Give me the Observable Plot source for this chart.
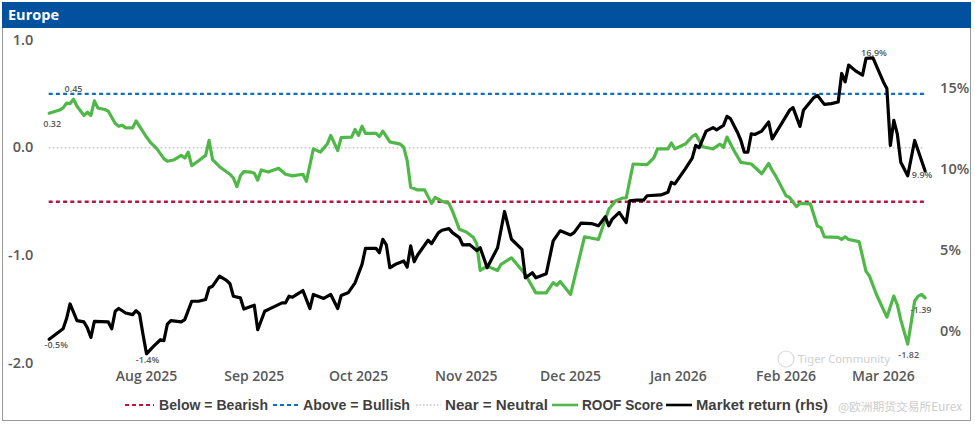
<!DOCTYPE html>
<html><head><meta charset="utf-8">
<script src="https://cdn.jsdelivr.net/npm/d3@7"></script>
<script src="https://cdn.jsdelivr.net/npm/@observablehq/plot@0.6"></script>
<style>
html,body{margin:0;padding:0;background:#fff;}
#wrap{position:relative;width:975px;height:424px;overflow:hidden;font-family:"Open Sans",sans-serif;}
#frame{position:absolute;left:2px;top:2px;width:969px;height:419px;border:1px solid #9a9a9a;box-sizing:border-box;}
#title{position:absolute;left:2px;top:2px;width:969px;height:26px;background:#02519e;color:#fff;font-weight:700;font-size:14.5px;line-height:26px;padding-left:6px;box-sizing:border-box;}
#chart{position:absolute;left:0;top:28px;}
#overlay{position:absolute;left:0;top:0;pointer-events:none;}
</style></head><body>
<div id="wrap"><div id="frame"></div><div id="title">Europe</div><div id="chart"></div><svg id="overlay" width="975" height="424"></svg></div>
<script>
// ROOF Score (left axis)
const roofDates = ["2025-07-04","2025-07-07","2025-07-08","2025-07-09","2025-07-10","2025-07-11","2025-07-12","2025-07-14","2025-07-15","2025-07-16","2025-07-17","2025-07-18","2025-07-20","2025-07-21","2025-07-23","2025-07-24","2025-07-25","2025-07-26","2025-07-28","2025-07-29","2025-07-30","2025-08-01","2025-08-02","2025-08-04","2025-08-06","2025-08-07","2025-08-09","2025-08-11","2025-08-12","2025-08-13","2025-08-14","2025-08-16","2025-08-18","2025-08-19","2025-08-20","2025-08-22","2025-08-25","2025-08-26","2025-08-27","2025-08-28","2025-08-29","2025-08-31","2025-09-01","2025-09-02","2025-09-03","2025-09-05","2025-09-08","2025-09-10","2025-09-12","2025-09-15","2025-09-16","2025-09-18","2025-09-20","2025-09-22","2025-09-23","2025-09-25","2025-09-26","2025-09-29","2025-09-30","2025-10-01","2025-10-02","2025-10-03","2025-10-06","2025-10-07","2025-10-08","2025-10-10","2025-10-13","2025-10-14","2025-10-15","2025-10-16","2025-10-18","2025-10-20","2025-10-22","2025-10-23","2025-10-25","2025-10-27","2025-10-28","2025-10-30","2025-11-01","2025-11-03","2025-11-04","2025-11-05","2025-11-07","2025-11-10","2025-11-11","2025-11-14","2025-11-18","2025-11-21","2025-11-24","2025-11-26","2025-11-27","2025-11-28","2025-12-01","2025-12-05","2025-12-09","2025-12-12","2025-12-14","2025-12-16","2025-12-17","2025-12-19","2025-12-23","2025-12-25","2025-12-26","2025-12-29","2025-12-30","2025-12-31","2026-01-03","2026-01-05","2026-01-06","2026-01-08","2026-01-11","2026-01-13","2026-01-14","2026-01-15","2026-01-17","2026-01-19","2026-01-22","2026-01-25","2026-01-27","2026-01-28","2026-01-29","2026-02-01","2026-02-02","2026-02-04","2026-02-05","2026-02-08","2026-02-10","2026-02-11","2026-02-12","2026-02-16","2026-02-17","2026-02-18","2026-02-19","2026-02-22","2026-02-24","2026-02-25","2026-02-27","2026-03-02","2026-03-04","2026-03-05","2026-03-06","2026-03-08","2026-03-10","2026-03-11","2026-03-12","2026-03-13"];
const roofScore = [0.32,0.35,0.37,0.415,0.41,0.45,0.385,0.30,0.33,0.30,0.435,0.37,0.355,0.34,0.225,0.20,0.21,0.185,0.185,0.25,0.20,0.10,0.055,-0.01,-0.10,-0.125,-0.11,-0.07,-0.095,-0.04,-0.165,-0.12,-0.07,0.07,-0.11,-0.175,-0.245,-0.28,-0.36,-0.26,-0.22,-0.225,-0.235,-0.30,-0.205,-0.225,-0.19,-0.245,-0.26,-0.245,-0.31,-0.01,-0.04,0.035,0.115,-0.025,0.095,0.10,0.17,0.115,0.20,0.135,0.135,0.105,0.155,0.055,0.035,0.005,-0.12,-0.365,-0.39,-0.39,-0.515,-0.46,-0.495,-0.515,-0.585,-0.755,-0.78,-0.83,-0.89,-1.137,-1.097,-1.137,-1.08,-1.02,-1.175,-1.345,-1.345,-1.25,-1.275,-1.24,-1.36,-0.825,-0.85,-0.57,-0.49,-0.465,-0.465,-0.15,-0.155,-0.09,-0.01,-0.01,0.045,-0.01,0.035,0.105,0.125,0.01,-0.01,0.035,0.005,0.10,-0.025,-0.135,-0.15,-0.24,-0.145,-0.21,-0.26,-0.445,-0.46,-0.545,-0.515,-0.52,-0.725,-0.74,-0.825,-0.83,-0.85,-0.825,-0.85,-0.87,-1.145,-1.19,-1.36,-1.57,-1.375,-1.455,-1.595,-1.82,-1.42,-1.375,-1.36,-1.39];

// Market return in % (right axis)
const marketDates = ["2025-07-04","2025-07-06","2025-07-08","2025-07-09","2025-07-10","2025-07-12","2025-07-14","2025-07-15","2025-07-16","2025-07-17","2025-07-21","2025-07-22","2025-07-23","2025-07-24","2025-07-26","2025-07-28","2025-07-29","2025-07-30","2025-07-31","2025-08-01","2025-08-03","2025-08-05","2025-08-06","2025-08-07","2025-08-08","2025-08-11","2025-08-12","2025-08-14","2025-08-16","2025-08-18","2025-08-19","2025-08-20","2025-08-22","2025-08-24","2025-08-25","2025-08-26","2025-08-28","2025-08-29","2025-09-01","2025-09-02","2025-09-04","2025-09-06","2025-09-09","2025-09-10","2025-09-11","2025-09-12","2025-09-15","2025-09-17","2025-09-18","2025-09-21","2025-09-23","2025-09-25","2025-09-26","2025-09-28","2025-09-30","2025-10-02","2025-10-03","2025-10-06","2025-10-07","2025-10-08","2025-10-09","2025-10-10","2025-10-12","2025-10-14","2025-10-15","2025-10-16","2025-10-17","2025-10-18","2025-10-21","2025-10-22","2025-10-24","2025-10-25","2025-10-27","2025-10-28","2025-10-30","2025-10-31","2025-11-02","2025-11-04","2025-11-05","2025-11-07","2025-11-10","2025-11-12","2025-11-14","2025-11-17","2025-11-18","2025-11-20","2025-11-21","2025-11-24","2025-11-26","2025-11-28","2025-12-01","2025-12-02","2025-12-04","2025-12-07","2025-12-09","2025-12-11","2025-12-12","2025-12-13","2025-12-15","2025-12-17","2025-12-18","2025-12-20","2025-12-22","2025-12-23","2025-12-27","2025-12-29","2025-12-30","2025-12-31","2026-01-03","2026-01-05","2026-01-06","2026-01-07","2026-01-09","2026-01-11","2026-01-12","2026-01-14","2026-01-15","2026-01-16","2026-01-18","2026-01-19","2026-01-20","2026-01-21","2026-01-22","2026-01-23","2026-01-25","2026-01-27","2026-01-28","2026-01-30","2026-02-02","2026-02-03","2026-02-05","2026-02-06","2026-02-09","2026-02-10","2026-02-12","2026-02-14","2026-02-16","2026-02-17","2026-02-18","2026-02-19","2026-02-21","2026-02-23","2026-02-24","2026-02-26","2026-03-01","2026-03-02","2026-03-03","2026-03-04","2026-03-05","2026-03-06","2026-03-08","2026-03-10","2026-03-13"];
const marketReturn = [-0.5,-0.18,0.15,0.78,1.68,0.65,0.57,0.19,-0.39,0.61,0.57,0.15,1.23,1.40,1.12,1.02,1.27,1.06,-0.22,-1.4,-0.94,-0.53,-0.59,0.44,0.65,0.57,0.71,1.85,1.85,1.96,2.68,2.78,3.40,3.14,2.93,2.16,2.06,1.37,1.60,0.09,1.23,1.44,1.75,1.75,2.16,2.10,2.51,1.40,2.27,2.02,2.27,1.40,2.20,2.37,2.99,4.13,5.12,5.12,4.85,5.68,5.33,3.92,4.17,4.34,3.96,5.27,4.29,4.71,5.62,5.41,6.09,6.24,6.34,6.09,5.78,5.33,5.35,4.98,5.16,3.92,5.16,7.40,5.68,5.06,3.30,3.61,3.30,3.55,5.58,6.20,5.95,6.09,6.68,6.65,6.51,7.07,6.51,6.93,7.34,6.71,8.06,8.10,8.10,8.37,8.42,8.58,9.20,9.10,10.03,10.70,11.48,11.35,12.37,12.58,12.45,12.72,13.28,13.14,12.30,11.79,11.06,11.06,12.20,12.16,12.37,12.93,11.89,12.58,13.65,13.82,12.66,13.65,14.44,14.58,14.02,14.07,14.17,15.93,15.41,16.45,16.09,15.83,16.86,16.90,15.41,15.00,11.48,13.03,12.20,10.44,9.61,11.79,9.90];

const monthTicks = ["2025-08-01","2025-09-01","2025-10-01","2025-11-01","2025-12-01","2026-01-01","2026-02-01","2026-03-01"];
const leftTicks = [1, 0, -1, -2];
const rightTicks = [0, 5, 10, 15];
const thresholds = {bearish: -0.5, neutral: 0, bullish: 0.5};
const legendLabels = ["Below = Bearish", "Above = Bullish", "Near = Neutral", "ROOF Score", "Market return (rhs)"];
const watermarkTexts = ["Tiger Community", "@欧洲期货交易所Eurex"];

const leftDomain = [-2, 1];
const rightDomain = [-2, 18];
const k = (leftDomain[1] - leftDomain[0]) / (rightDomain[1] - rightDomain[0]);
const toLeft = r => leftDomain[0] + (r - rightDomain[0]) * k;
const fromLeft = v => rightDomain[0] + (v - leftDomain[0]) / k;

const roof = roofDates.map((d, i) => ({date: new Date(d), value: roofScore[i]}));
const market = marketDates.map((d, i) => ({date: new Date(d), value: marketReturn[i], y: toLeft(marketReturn[i])}));

const GREEN = "#4fb848", BLUE = "#0a6fc2", RED = "#b8163e", GREY = "#c4c4c4";
const LABEL = "#595959";

const rMax = roof[d3.maxIndex(roof, d => d.value)];
const rMin = roof[d3.minIndex(roof, d => d.value)];
const rFirst = roof[0], rLast = roof[roof.length - 1];
const mMax = market[d3.maxIndex(market, d => d.value)];
const mMin = market[d3.minIndex(market, d => d.value)];
const mFirst = market[0], mLast = market[market.length - 1];

const fmtR = v => v.toFixed(2);
const fmtM = v => v.toFixed(1) + "%";
const ann = (d, yv, text, dx, dy) => Plot.text([d], {x: "date", y: yv, text: () => text, dx, dy, fill: LABEL, fontSize: 9, fontWeight: 600});

const chart = Plot.plot({
  width: 975, height: 362,
  marginLeft: 48.7, marginRight: 50.4, marginTop: 11.5, marginBottom: 27,
  x: {type: "utc", domain: [rFirst.date, rLast.date]},
  y: {domain: leftDomain},
  style: {fontFamily: "'Open Sans', sans-serif", fontSize: "14px", fontWeight: 600, color: LABEL, background: "transparent", overflow: "visible"},
  marks: [
    Plot.ruleY([thresholds.neutral], {stroke: GREY, strokeWidth: 1.5, strokeDasharray: "1.6,2.4"}),
    Plot.ruleY([thresholds.bullish], {stroke: BLUE, strokeWidth: 2.4, strokeDasharray: "4,3.2"}),
    Plot.ruleY([thresholds.bearish], {stroke: RED, strokeWidth: 2.4, strokeDasharray: "4,3.2"}),
    Plot.lineY(roof, {x: "date", y: "value", stroke: GREEN, strokeWidth: 3.2, strokeLinejoin: "round"}),
    Plot.lineY(market, {x: "date", y: "y", stroke: "#000", strokeWidth: 3.2, strokeLinejoin: "round"}),
    Plot.axisX(monthTicks.map(d => new Date(d)), {tickSize: 0, tickPadding: 8, tickFormat: d3.utcFormat("%b %Y"), fontSize: 14, fontWeight: 600}),
    Plot.axisY(leftTicks, {anchor: "left", tickSize: 0, tickPadding: 16, tickFormat: d => d.toFixed(1), fontSize: 14.5, fontWeight: 600}),
    Plot.axisY(rightTicks.map(toLeft), {anchor: "right", tickSize: 0, tickPadding: 15, tickFormat: d => Math.round(fromLeft(d)) + "%", fontSize: 14.5, fontWeight: 600}),
    ann(rFirst, "value", fmtR(rFirst.value), 3, 11),
    ann(rMax, "value", fmtR(rMax.value), 0, -10),
    ann(rMin, "value", fmtR(rMin.value), 1, 11),
    ann(rLast, "value", fmtR(rLast.value), -4, 12),
    ann(mFirst, "y", fmtM(mFirst.value), 7, 6),
    ann(mMin, "y", fmtM(mMin.value), 1, 6),
    ann(mMax, "y", fmtM(mMax.value), 1, -5),
    ann(mLast, "y", fmtM(mLast.value), -3, 4)
  ]
});
document.getElementById("chart").appendChild(chart);

// legend + watermark overlay
const ov = d3.select("#overlay");
const ly = 405;
const items = [
  {sx: 125, sw: 29, tx: 159, tw: 109, stroke: RED, dash: "4,3", w: 2},
  {sx: 273, sw: 27, tx: 303, tw: 107, stroke: BLUE, dash: "4,3", w: 2},
  {sx: 416, sw: 25, tx: 445, tw: 103, stroke: GREY, dash: "1.5,2", w: 1.5},
  {sx: 552, sw: 26, tx: 582, tw: 81, stroke: GREEN, dash: null, w: 2.6},
  {sx: 666, sw: 26, tx: 696, tw: 132, stroke: "#000", dash: null, w: 2.6}
];
items.forEach((it, i) => {
  ov.append("line").attr("x1", it.sx).attr("x2", it.sx + it.sw).attr("y1", ly).attr("y2", ly)
    .attr("stroke", it.stroke).attr("stroke-width", it.w).attr("stroke-dasharray", it.dash);
  ov.append("text").attr("x", it.tx).attr("y", ly).attr("dy", "0.36em")
    .attr("textLength", it.tw).attr("lengthAdjust", "spacingAndGlyphs")
    .attr("font-family", "'Liberation Sans Narrow','Liberation Sans',sans-serif").attr("font-size", 15).attr("font-weight", 700)
    .attr("fill", "#3f3f3f").text(legendLabels[i]);
});
// faint watermark (kept clear of the axis labels and legend)
ov.append("circle").attr("cx", 786).attr("cy", 359).attr("r", 8).attr("fill", "none").attr("stroke", "#dadada").attr("stroke-width", 1.2);
ov.append("text").attr("x", 798).attr("y", 359).attr("dy", "0.35em").attr("textLength", 92).attr("lengthAdjust", "spacingAndGlyphs").attr("font-family", "'Noto Sans',sans-serif").attr("font-size", 10).attr("fill", "#cfcfcf").text(watermarkTexts[0]);
ov.append("text").attr("x", 838).attr("y", 407).attr("dy", "0.35em").attr("textLength", 124).attr("lengthAdjust", "spacingAndGlyphs").attr("font-family", "'Noto Sans CJK SC',sans-serif").attr("font-size", 11.5).attr("fill", "#cccccc").text(watermarkTexts[1]);
</script>
</body></html>
